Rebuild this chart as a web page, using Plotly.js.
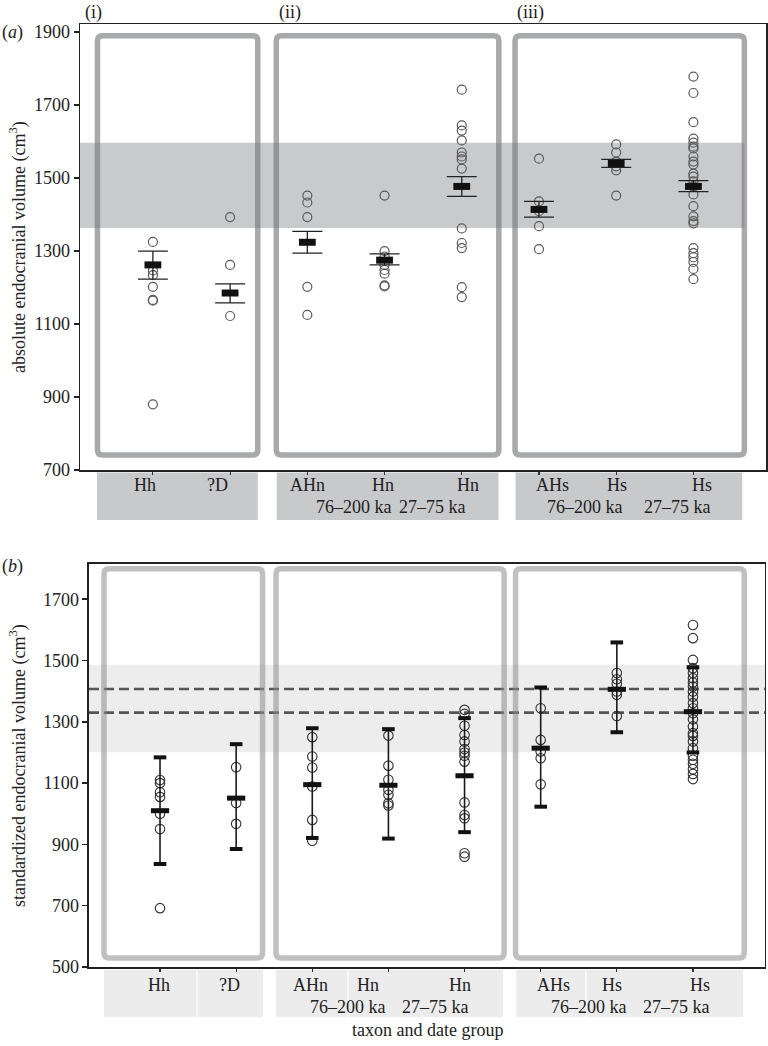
<!DOCTYPE html>
<html>
<head>
<meta charset="utf-8">
<script src="https://cdn.plot.ly/plotly-3.0.1.min.js"></script>
<style>html,body{margin:0;padding:0;background:#fff;}#chart{width:768px;height:1046px;}</style>
</head>
<body>
<div id="chart"></div>
<script>
// ---------- data ----------
const taxa = ["Hh", "?D", "AHn", "Hn", "Hn", "AHs", "Hs", "Hs"];
const dateGroups = ["", "", "", "76–200 ka", "27–75 ka", "", "76–200 ka", "27–75 ka"];
const panelLabels = ["(i)", "(ii)", "(iii)"];

// (a) absolute endocranial volume (cm3)
const absHh   = [1325, 1247, 1234, 1202, 1166, 1164, 880];
const absD    = [1393, 1262, 1122];
const absAHn  = [1452, 1433, 1393, 1202, 1125];
const absHn76 = [1452, 1300, 1285, 1262, 1248, 1238, 1206, 1203];
const absHn27 = [1742, 1644, 1630, 1603, 1570, 1559, 1551, 1526, 1362, 1322, 1308, 1201, 1174];
const absAHs  = [1553, 1436, 1409, 1368, 1305];
const absHs76 = [1592, 1570, 1545, 1532, 1521, 1452];
const absHs27 = [1778, 1733, 1653, 1608, 1597, 1586, 1581, 1559, 1545, 1537, 1512, 1504, 1491, 1477, 1455, 1423, 1395, 1382, 1376, 1308, 1294, 1283, 1270, 1251, 1223];
const absMean = [1262, 1185, 1324, 1275, 1477, 1414, 1540, 1477];
const absHi   = [1300, 1210, 1354, 1292, 1504, 1436, 1551, 1493];
const absLo   = [1223, 1158, 1294, 1262, 1450, 1393, 1529, 1463];
const absBand = [1363, 1597];

// (b) standardized endocranial volume (cm3)
const stdHh   = [1110, 1100, 1070, 1055, 1000, 950, 692];
const stdD    = [1152, 1035, 967];
const stdAHn  = [1250, 1187, 1151, 1089, 980, 912];
const stdHn76 = [1255, 1157, 1111, 1078, 1062, 1034, 1027];
const stdHn27 = [1339, 1326, 1287, 1257, 1236, 1211, 1200, 1189, 1170, 1037, 996, 985, 871, 860];
const stdAHs  = [1344, 1241, 1203, 1181, 1096];
const stdHs76 = [1459, 1439, 1424, 1399, 1388, 1319];
const stdHs27 = [1616, 1573, 1502, 1475, 1459, 1442, 1428, 1415, 1399, 1382, 1361, 1344, 1328, 1308, 1285, 1263, 1254, 1236, 1214, 1189, 1176, 1163, 1145, 1130, 1113];
const stdMean = [1010, 1051, 1095, 1093, 1124, 1214, 1406, 1333];
const stdHi   = [1184, 1227, 1279, 1276, 1312, 1412, 1559, 1478];
const stdLo   = [836, 885, 921, 919, 940, 1023, 1266, 1200];
const stdBand = [1201, 1486];
const stdRefLines = [1407, 1330];

// ---------- layout helpers (positions/styles) ----------
const FONT = "Liberation Serif, Times New Roman, serif";
const cats = taxa.map((_, i) => i + 1);
const absGroups = [absHh, absD, absAHn, absHn76, absHn27, absAHs, absHs76, absHs27];
const stdGroups = [stdHh, stdD, stdAHn, stdHn76, stdHn27, stdAHs, stdHs76, stdHs27];

function flatten(groups) {
  const xs = [], ys = [];
  groups.forEach((g, i) => g.forEach(v => { xs.push(cats[i]); ys.push(v); }));
  return {xs, ys};
}
const absPts = flatten(absGroups);
const stdPts = flatten(stdGroups);

function rr(x0, x1, y0, y1, rx, ry) {
  return `M${x0 + rx},${y0} L${x1 - rx},${y0} Q${x1},${y0} ${x1},${y0 + ry} L${x1},${y1 - ry} Q${x1},${y1} ${x1 - rx},${y1} L${x0 + rx},${y1} Q${x0},${y1} ${x0},${y1 - ry} L${x0},${y0 + ry} Q${x0},${y0} ${x0 + rx},${y0} Z`;
}

const traces = [
  // (a) points
  {x: absPts.xs, y: absPts.ys, xaxis: "x", yaxis: "y", type: "scatter", mode: "markers",
   marker: {symbol: "circle-open", size: 9, color: "#5a5a5a", line: {width: 1.2, color: "#5a5a5a"}},
   hoverinfo: "y", showlegend: false},
  // (a) mean + SE bars
  {x: cats, y: absMean, xaxis: "x", yaxis: "y", type: "scatter", mode: "markers",
   marker: {symbol: "line-ew", size: 12, line: {width: 7, color: "#111"}, color: "#111"},
   error_y: {type: "data", symmetric: false,
             array: absHi.map((v, i) => v - absMean[i]),
             arrayminus: absMean.map((v, i) => v - absLo[i]),
             color: "#222", thickness: 1.3, width: 15},
   hoverinfo: "y", showlegend: false},
  // (b) points
  {x: stdPts.xs, y: stdPts.ys, xaxis: "x2", yaxis: "y2", type: "scatter", mode: "markers",
   marker: {symbol: "circle-open", size: 9.5, color: "#333", line: {width: 1.1, color: "#333"}},
   hoverinfo: "y", showlegend: false},
  // (b) whiskers
  {x: cats, y: stdMean, xaxis: "x2", yaxis: "y2", type: "scatter", mode: "markers",
   marker: {symbol: "line-ew", size: 13, line: {width: 5, color: "#111"}, color: "#111"},
   error_y: {type: "data", symmetric: false,
             array: stdHi.map((v, i) => v - stdMean[i]),
             arrayminus: stdMean.map((v, i) => v - stdLo[i]),
             color: "#1a1a1a", thickness: 1.6, width: 0},
   hoverinfo: "y", showlegend: false},
  // (b) whisker caps
  {x: cats.concat(cats), y: stdHi.concat(stdLo), xaxis: "x2", yaxis: "y2", type: "scatter", mode: "markers",
   marker: {symbol: "line-ew", size: 9, line: {width: 4, color: "#111"}},
   hoverinfo: "y", showlegend: false}
];

// ---------- shapes ----------
const topBoxes = [[0.282, 2.358], [2.598, 5.48], [5.69, 8.66]];
const botBoxes = [[0.264, 2.347], [2.524, 5.52], [5.67, 8.674]];
const topLabelBoxes = [[0.276, 2.358], [2.604, 5.476], [5.696, 8.633]];
const botLabelBoxes = [[0.264, 2.354], [2.524, 5.507], [5.678, 8.66]];
const botDividers = [1.486, 3.469, 6.595];

const shapes = [];
// (a) band
shapes.push({type: "rect", xref: "x", yref: "y", x0: 0.056, x1: 8.66, y0: absBand[0], y1: absBand[1],
  fillcolor: "#c9cacc", line: {width: 0}, layer: "below"});
topBoxes.forEach(b => shapes.push({type: "path", xref: "x", yref: "y", layer: "below",
  path: rr(b[0], b[1], 741, 1890, 0.065, 13.7),
  line: {color: "rgba(115,116,120,0.62)", width: 5.5}, fillcolor: "rgba(0,0,0,0)"}));
topLabelBoxes.forEach(b => shapes.push({type: "rect", xref: "x", yref: "paper",
  x0: b[0], x1: b[1], y0: 0.474, y1: 0.5245, fillcolor: "#c8c9cb", line: {width: 0}, layer: "below"}));

// (b) band + reference lines
shapes.push({type: "rect", xref: "x2 domain", yref: "y2", x0: 0, x1: 1, y0: stdBand[0], y1: stdBand[1],
  fillcolor: "#ededed", line: {width: 0}, layer: "below"});
botBoxes.forEach(b => shapes.push({type: "path", xref: "x2", yref: "y2", layer: "below",
  path: rr(b[0], b[1], 529, 1799, 0.066, 16.3),
  line: {color: "rgba(140,140,142,0.55)", width: 5.5}, fillcolor: "rgba(0,0,0,0)"}));
stdRefLines.forEach(v => shapes.push({type: "line", xref: "x2 domain", yref: "y2", x0: 0, x1: 1, y0: v, y1: v,
  line: {color: "#555", width: 2.6, dash: "10px,5px"}, layer: "below"}));
botLabelBoxes.forEach(b => shapes.push({type: "rect", xref: "x2", yref: "paper",
  x0: b[0], x1: b[1], y0: -0.053, y1: -0.0032, fillcolor: "#ececec", line: {width: 0}, layer: "below"}));
botDividers.forEach(d => shapes.push({type: "line", xref: "x2", yref: "paper", x0: d, x1: d, y0: -0.053, y1: -0.0032,
  line: {color: "#ffffff", width: 1.2}, layer: "below"}));

// ---------- annotations ----------
const topTaxShift = [-8, -13, 0, -2, 6, 14, 1, 9];
const topDateShift = [0, 0, 0, -31, -29, 0, -31, -16];
const botTaxShift = [-1, -7, -2, -20, -5, 13, -5, 7];
const botDateShift = [0, 0, 0, -40, -29, 0, -28, -16];
const lab = {family: FONT, size: 18, color: "#222"};
const annotations = [];
taxa.forEach((t, i) => {
  annotations.push({text: t, xref: "x", yref: "paper", x: cats[i], y: 0.511, xshift: topTaxShift[i],
    showarrow: false, xanchor: "center", yanchor: "middle", font: lab});
  annotations.push({text: t, xref: "x2", yref: "paper", x: cats[i], y: -0.0191, xshift: botTaxShift[i],
    showarrow: false, xanchor: "center", yanchor: "middle", font: lab});
  if (dateGroups[i]) {
    annotations.push({text: dateGroups[i], xref: "x", yref: "paper", x: cats[i], y: 0.488, xshift: topDateShift[i],
      showarrow: false, xanchor: "center", yanchor: "middle", font: lab});
    annotations.push({text: dateGroups[i], xref: "x2", yref: "paper", x: cats[i], y: -0.0424, xshift: botDateShift[i],
      showarrow: false, xanchor: "center", yanchor: "middle", font: lab});
  }
});
const panelX = [0.0204, 0.306, 0.656];
panelLabels.forEach((p, i) => annotations.push({text: p, xref: "paper", yref: "paper", x: panelX[i], y: 1.0127,
  showarrow: false, xanchor: "center", yanchor: "middle", font: lab}));
annotations.push({text: "(<i>a</i>)", xref: "paper", yref: "paper", x: -0.0977, y: 0.9915,
  showarrow: false, xanchor: "center", yanchor: "middle", font: lab});
annotations.push({text: "(<i>b</i>)", xref: "paper", yref: "paper", x: -0.0977, y: 0.4252,
  showarrow: false, xanchor: "center", yanchor: "middle", font: lab});
annotations.push({text: "absolute endocranial volume (cm<sup>3</sup>)", xref: "paper", yref: "paper",
  x: -0.0904, y: 0.7635, textangle: -90, showarrow: false, xanchor: "center", yanchor: "middle", font: lab});
annotations.push({text: "standardized endocranial volume (cm<sup>3</sup>)", xref: "paper", yref: "paper",
  x: -0.0904, y: 0.2142, textangle: -90, showarrow: false, xanchor: "center", yanchor: "middle", font: lab});
annotations.push({text: "taxon and date group", xref: "paper", yref: "paper",
  x: 0.507, y: -0.0668, showarrow: false, xanchor: "center", yanchor: "middle", font: lab});

const xBase = {tickvals: cats, showticklabels: false, ticks: "outside", ticklen: 3, tickwidth: 1.2, tickcolor: "#333",
  showline: true, mirror: true, linecolor: "#222", linewidth: 1.5, zeroline: false, showgrid: false, fixedrange: true};
const yBase = {ticks: "outside", ticklen: 5, tickwidth: 1.5, tickcolor: "#222",
  tickfont: {family: FONT, size: 18, color: "#222"},
  showline: true, mirror: true, linecolor: "#222", linewidth: 1.5, zeroline: false, showgrid: false, fixedrange: true};

const layout = {
  width: 768, height: 1046,
  margin: {l: 80, r: 2, t: 24, b: 79},
  paper_bgcolor: "#fff", plot_bgcolor: "rgba(0,0,0,0)",
  font: {family: FONT, size: 18, color: "#222"},
  showlegend: false,
  xaxis: Object.assign({}, xBase, {domain: [0, 1], anchor: "y", range: [0.056, 8.94]}),
  yaxis: Object.assign({}, yBase, {domain: [0.527, 1], anchor: "x", range: [700, 1922],
    tickvals: [700, 900, 1100, 1300, 1500, 1700, 1900]}),
  xaxis2: Object.assign({}, xBase, {domain: [0.0131, 0.9985], anchor: "y2", range: [0.067, 8.946]}),
  yaxis2: Object.assign({}, yBase, {domain: [0, 0.4274], anchor: "x2", range: [500, 1815],
    tickvals: [500, 700, 900, 1100, 1300, 1500, 1700]}),
  shapes: shapes,
  annotations: annotations
};

Plotly.newPlot("chart", traces, layout, {staticPlot: true, displayModeBar: false});
</script>
</body>
</html>
